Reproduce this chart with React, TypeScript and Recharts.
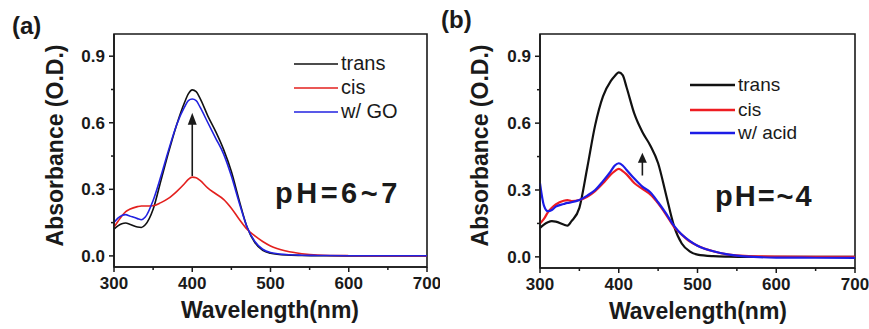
import { LineChart, Line, XAxis, YAxis, ReferenceArea, ReferenceLine, ReferenceDot } from "recharts";

const FONT = "'Liberation Sans', Arial, sans-serif";
const INK = "#1a1a1a";

// wavelength grid (nm), shared by all series
const wavelengths = [300, 305, 310, 315, 320, 330, 335, 340, 350, 360, 370, 380, 390, 395, 400, 405, 410, 420, 430, 440, 450, 460, 470, 480, 490, 500, 520, 540, 560, 600, 650, 700];

// panel (a), pH 6~7
const transA = [0.12, 0.135, 0.145, 0.148, 0.143, 0.13, 0.128, 0.14, 0.21, 0.34, 0.47, 0.59, 0.69, 0.73, 0.748, 0.74, 0.71, 0.63, 0.56, 0.48, 0.38, 0.25, 0.13, 0.06, 0.025, 0.012, 0.004, 0.002, 0.001, 0, 0, 0];
const cisA = [0.13, 0.155, 0.18, 0.2, 0.21, 0.222, 0.225, 0.225, 0.226, 0.24, 0.26, 0.29, 0.325, 0.345, 0.355, 0.352, 0.34, 0.305, 0.28, 0.255, 0.215, 0.165, 0.12, 0.09, 0.065, 0.045, 0.022, 0.01, 0.004, 0.001, 0, 0];
const goA = [0.15, 0.17, 0.182, 0.186, 0.18, 0.168, 0.163, 0.175, 0.25, 0.36, 0.48, 0.59, 0.67, 0.7, 0.707, 0.7, 0.67, 0.6, 0.53, 0.46, 0.36, 0.24, 0.13, 0.065, 0.03, 0.015, 0.006, 0.003, 0.002, 0.001, 0.001, 0.001];

// panel (b), pH ~4
const transB = [0.13, 0.145, 0.155, 0.16, 0.158, 0.145, 0.14, 0.16, 0.22, 0.4, 0.59, 0.72, 0.79, 0.812, 0.828, 0.815, 0.76, 0.64, 0.56, 0.5, 0.42, 0.28, 0.14, 0.06, 0.025, 0.01, 0.003, 0.001, 0, 0, 0, 0];
const cisB = [0.15, 0.17, 0.2, 0.22, 0.235, 0.252, 0.255, 0.25, 0.255, 0.27, 0.295, 0.33, 0.37, 0.385, 0.395, 0.385, 0.37, 0.33, 0.305, 0.28, 0.24, 0.19, 0.135, 0.1, 0.07, 0.05, 0.025, 0.01, 0.004, 0.001, 0, 0];
const acidB = [0.33, 0.23, 0.205, 0.21, 0.225, 0.237, 0.242, 0.245, 0.255, 0.275, 0.3, 0.34, 0.385, 0.41, 0.42, 0.41, 0.39, 0.35, 0.315, 0.29, 0.245, 0.195, 0.14, 0.1, 0.072, 0.05, 0.025, 0.01, 0.002, -0.003, -0.004, -0.005];

const xTicks = [300, 350, 400, 450, 500, 550, 600, 650, 700];
const xLabels = [300, 400, 500, 600, 700];
const yTicks = [0, 0.15, 0.3, 0.45, 0.6, 0.75, 0.9];
const yLabels = [0, 0.3, 0.6, 0.9];

const rowsA = wavelengths.map((wl, i) => ({ wl, trans: transA[i], cis: cisA[i], go: goA[i] }));
const rowsB = wavelengths.map((wl, i) => ({ wl, trans: transB[i], cis: cisB[i], acid: acidB[i] }));

const seriesA = [
  { key: "trans", name: "trans", color: "#111111" },
  { key: "cis", name: "cis", color: "#e3201e" },
  { key: "go", name: "w/ GO", color: "#2222e0" },
];
const seriesB = [
  { key: "trans", name: "trans", color: "#111111" },
  { key: "cis", name: "cis", color: "#ee1c22" },
  { key: "acid", name: "w/ acid", color: "#1c1ce6" },
];

const XTick = (props: any) => {
  const { x, y, payload } = props;
  const major = xLabels.includes(payload.value);
  return (
    <g>
      <line x1={x} x2={x} y1={y} y2={y + (major ? 5 : 3)} stroke={INK} strokeWidth={1.5} />
      {major && (
        <text x={x} y={y + 22} textAnchor="middle" fontSize={17} fontWeight="bold" fill={INK} fontFamily={FONT}>
          {payload.value}
        </text>
      )}
    </g>
  );
};

const YTick = (props: any) => {
  const { x, y, payload } = props;
  const major = yLabels.some((v) => Math.abs(v - payload.value) < 1e-6);
  return (
    <g>
      <line x1={x - (major ? 5 : 3)} x2={x} y1={y} y2={y} stroke={INK} strokeWidth={1.5} />
      {major && (
        <text x={x - 9} y={y + 6} textAnchor="end" fontSize={17} fontWeight="bold" fill={INK} fontFamily={FONT}>
          {payload.value.toFixed(1)}
        </text>
      )}
    </g>
  );
};

function Panel({ rows, series, left, width, yAxisW, xAxisH, right, lineW, arrow, headLen }: any) {
  const head = (p: any) => {
    const { cx, cy } = p;
    return <polygon points={`${cx},${cy} ${cx - 4.5},${cy + headLen} ${cx + 4.5},${cy + headLen}`} fill={INK} />;
  };
  return (
    <div style={{ position: "absolute", left, top: 0 }}>
      <LineChart width={width} height={329} data={rows} margin={{ top: 34, right, bottom: 0, left: 0 }}>
        <XAxis
          dataKey="wl"
          type="number"
          domain={[300, 700]}
          ticks={xTicks}
          height={xAxisH}
          tickSize={0}
          tickMargin={0}
          tick={<XTick />}
          axisLine={{ stroke: INK, strokeWidth: 1.6 }}
          interval={0}
        />
        <YAxis
          type="number"
          domain={[-0.05, 1.0]}
          ticks={yTicks}
          width={yAxisW}
          tickSize={0}
          tickMargin={0}
          tick={<YTick />}
          axisLine={{ stroke: INK, strokeWidth: 1.6 }}
          interval={0}
        />
        <ReferenceArea x1={300} x2={700} y1={-0.05} y2={1.0} fill="none" stroke={INK} strokeWidth={1.6} />
        {series.map((s: any) => (
          <Line
            key={s.key}
            dataKey={s.key}
            name={s.name}
            type="monotone"
            stroke={s.color}
            strokeWidth={lineW}
            dot={false}
            isAnimationActive={false}
          />
        ))}
        <ReferenceLine
          segment={[
            { x: arrow.x, y: arrow.from },
            { x: arrow.x, y: arrow.to - 0.03 },
          ]}
          stroke={INK}
          strokeWidth={1.6}
        />
        <ReferenceDot x={arrow.x} y={arrow.to} r={1} shape={head} />
      </LineChart>
    </div>
  );
}

function LegendBox({ series, x, ys, lineLen, lineW, fontSize }: any) {
  return (
    <g>
      {series.map((s: any, i: number) => (
        <g key={s.key}>
          <line x1={x} x2={x + lineLen} y1={ys[i]} y2={ys[i]} stroke={s.color} strokeWidth={lineW} />
          <text x={x + lineLen + 3} y={ys[i] + 6} fontSize={fontSize} fill={INK} fontFamily={FONT}>
            {s.name}
          </text>
        </g>
      ))}
    </g>
  );
}

export default function App() {
  return (
    <div style={{ position: "absolute", left: 0, top: 0, width: 869, height: 329, background: "#fff", overflow: "hidden" }}>
      <Panel
        rows={rowsA}
        series={seriesA}
        left={0}
        width={440}
        yAxisW={114}
        xAxisH={62}
        right={13}
        lineW={1.6}
        arrow={{ x: 400, from: 0.36, to: 0.645 }}
        headLen={12}
      />
      <Panel
        rows={rowsB}
        series={seriesB}
        left={440}
        width={429}
        yAxisW={100}
        xAxisH={61}
        right={14}
        lineW={2.2}
        arrow={{ x: 430, from: 0.365, to: 0.467 }}
        headLen={10}
      />
      <svg width={869} height={329} style={{ position: "absolute", left: 0, top: 0, pointerEvents: "none" }}>
        <text x={12} y={34} fontSize={24} fontWeight="bold" fill={INK} fontFamily={FONT}>(a)</text>
        <text x={441} y={28} fontSize={24} fontWeight="bold" fill={INK} fontFamily={FONT}>(b)</text>

        <text x={63} y={145.5} transform="rotate(-90 63 145.5)" textAnchor="middle" fontSize={23} fontWeight="bold" fill={INK} fontFamily={FONT}>
          Absorbance (O.D.)
        </text>
        <text x={488} y={145.5} transform="rotate(-90 488 145.5)" textAnchor="middle" fontSize={23} fontWeight="bold" fill={INK} fontFamily={FONT}>
          Absorbance (O.D.)
        </text>
        <text x={270} y={318} textAnchor="middle" fontSize={23} fontWeight="bold" fill={INK} fontFamily={FONT}>Wavelength(nm)</text>
        <text x={698} y={319} textAnchor="middle" fontSize={23} fontWeight="bold" fill={INK} fontFamily={FONT}>Wavelength(nm)</text>

        <text x={275} y={203} fontSize={29} fontWeight="bold" letterSpacing={3.5} fill={INK} fontFamily={FONT}>pH=6~7</text>
        <text x={715} y={206} fontSize={29} fontWeight="bold" letterSpacing={2} fill={INK} fontFamily={FONT}>pH=~4</text>

        <LegendBox series={seriesA} x={294} ys={[64, 88, 112]} lineLen={44} lineW={1.6} fontSize={20} />
        <LegendBox series={seriesB} x={690} ys={[85, 110, 133]} lineLen={45} lineW={2.4} fontSize={19} />
      </svg>
    </div>
  );
}
